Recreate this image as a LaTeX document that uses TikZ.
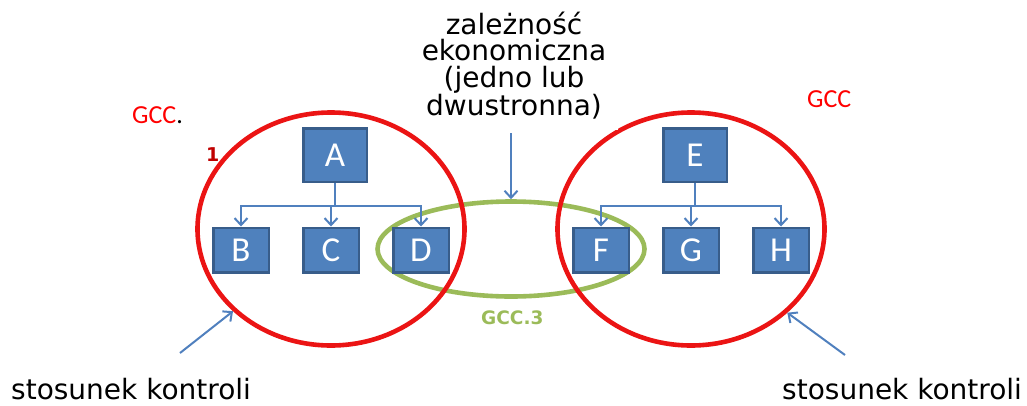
\documentclass[tikz,border=0pt]{standalone}
\usepackage{fontspec}
\setmainfont{DejaVu Sans}
\newfontfamily\calfont{Carlito}
\usetikzlibrary{shapes.geometric,arrows.meta}
\definecolor{ellred}{RGB}{235,20,20}
\definecolor{darkred}{RGB}{192,0,0}
\definecolor{gccgreen}{RGB}{155,187,89}
\definecolor{boxfill}{RGB}{79,129,189}
\definecolor{boxline}{RGB}{56,93,138}
\definecolor{connblue}{RGB}{80,128,190}
\begin{document}
\begin{tikzpicture}[x=1pt,y=-1pt,
  boxbase/.style={draw=boxline, fill=boxfill, line width=2.5pt, inner sep=0pt, text=white, font=\calfont\fontsize{35}{35}\selectfont},
  bigbox/.style={boxbase, minimum width=63.5pt, minimum height=53.5pt},
  smallbox/.style={boxbase, minimum width=55.5pt, minimum height=44.5pt},
  redell/.style={ellipse, draw=ellred, line width=4.6pt, minimum width=267pt, minimum height=233pt, inner sep=0pt},
  greenell/.style={ellipse, draw=gccgreen, line width=4.6pt, minimum width=267pt, minimum height=95pt, inner sep=0pt},
  conn/.style={draw=connblue, line width=2pt, -{Straight Barb[length=7pt,width=13pt,line width=2pt]}},
  lbl/.style={anchor=base west, inner sep=0pt},
  bigtext/.style={font=\fontsize{28}{26.5}\selectfont}
]
\useasboundingbox (0,0) rectangle (1027,405);

% ellipses
\node[greenell] (gcc3) at (511,249) {};
\node[redell] (L) at (331,229) {};
\node[redell] (R) at (691,229) {};

% top label (white background)
\node[fill=white, align=center, bigtext, anchor=south, minimum width=208pt, inner ysep=11pt, inner xsep=0pt] (dep) at (514,130)
  {zależność\\ekonomiczna\\(jedno lub\\dwustronna)};

% boxes
\node[bigbox] (A) at (335,155) {A};
\node[smallbox] (B) at (241,250) {B};
\node[smallbox] (C) at (331,250) {C};
\node[smallbox] (D) at (421,250) {D};
\node[bigbox] (E) at (695,155) {E};
\node[smallbox] (F) at (601,250) {F};
\node[smallbox] (G) at (691,250) {G};
\node[smallbox] (H) at (781,250) {H};

% tree connectors
\draw[conn] (A.south) -- ++(0,23) -| (B.north);
\draw[conn] (A.south) ++(0,23) -| (C.north);
\draw[conn] (A.south) ++(0,23) -| (D.north);
\draw[conn] (E.south) -- ++(0,23) -| (F.north);
\draw[conn] (E.south) ++(0,23) -| (G.north);
\draw[conn] (E.south) ++(0,23) -| (H.north);

% pointer arrows
\draw[conn] ([yshift=-3pt]dep.south -| gcc3.north) -- (gcc3.north);
\coordinate (s1) at (180,353);
\coordinate (s2) at (845,355);
\draw[conn] (s1) -- (L.220);
\draw[conn] (s2) -- (R.319);

% labels
\node[lbl, bigtext] (sk1) at (11,399) {stosunek kontroli};
\node[lbl, bigtext] (sk2) at (782,399) {stosunek kontroli};
\node[lbl, text=red, font=\calfont\fontsize{26}{26}\selectfont] (g1) at (132,123) {GCC\textcolor{black}{.}};
\node[lbl, text=red, font=\calfont\fontsize{26}{26}\selectfont] (g2) at (807,107) {GCC};
\node[lbl, text=darkred, font=\bfseries\fontsize{19}{19}\selectfont] (one) at (206,161) {1};
\node[lbl, text=gccgreen, font=\bfseries\fontsize{18.5}{18.5}\selectfont] (g3lab) at (481,324) {GCC.3};
\end{tikzpicture}
\end{document}
